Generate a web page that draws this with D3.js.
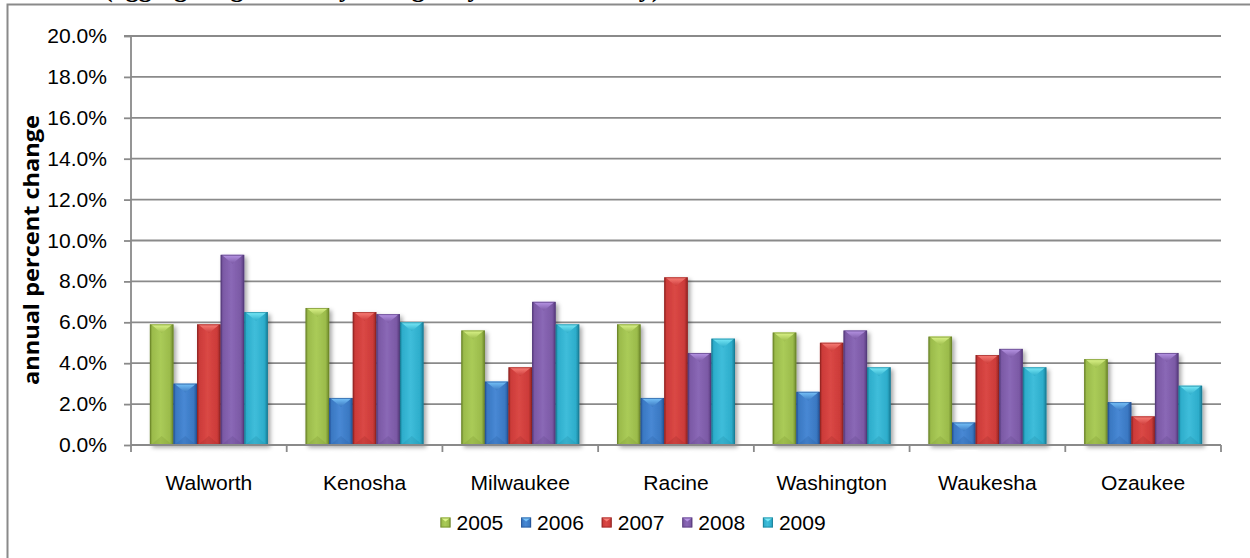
<!DOCTYPE html>
<html>
<head>
<meta charset="utf-8">
<script src="https://cdn.jsdelivr.net/npm/d3@7"></script>
<style>
  html, body { margin: 0; padding: 0; background: #fff; }
  svg { display: block; }
</style>
</head>
<body>
<svg id="chart" width="1250" height="558"></svg>
<script>
// Counties along the x axis
const categories = ["Walworth", "Kenosha", "Milwaukee", "Racine", "Washington", "Waukesha", "Ozaukee"];
// Years (one bar per year in each county)
const seriesNames = ["2005", "2006", "2007", "2008", "2009"];
// Annual percent change by county, one array per year
const v2005 = [5.9, 6.7, 5.6, 5.9, 5.5, 5.3, 4.2];
const v2006 = [3.0, 2.3, 3.1, 2.3, 2.6, 1.1, 2.1];
const v2007 = [5.9, 6.5, 3.8, 8.2, 5.0, 4.4, 1.4];
const v2008 = [9.3, 6.4, 7.0, 4.5, 5.6, 4.7, 4.5];
const v2009 = [6.5, 6.0, 5.9, 5.2, 3.8, 3.8, 2.9];
// Y axis ticks (percent)
const yTickValues = [0, 2, 4, 6, 8, 10, 12, 14, 16, 18, 20];
const yTickLabels = ["0.0%", "2.0%", "4.0%", "6.0%", "8.0%", "10.0%", "12.0%", "14.0%", "16.0%", "18.0%", "20.0%"];
const yTitle = "annual percent change";
const headerText = "(aggregating total levy changes by units in county)";

const seriesValues = [v2005, v2006, v2007, v2008, v2009];

// Bevel palette for each year: body, highlight, edge, top facet
const palette = [
  { base: "#9BBB4B", light: "#AACB58", dark: "#6C862A", tip: "#DDF58A" },
  { base: "#3A78C2", light: "#4888D4", dark: "#255396", tip: "#78C4FA" },
  { base: "#CC3B39", light: "#DA4845", dark: "#922422", tip: "#FA7F78" },
  { base: "#7B59A5", light: "#8A68B6", dark: "#553A7B", tip: "#B896E6" },
  { base: "#2DADCB", light: "#3FBDDA", dark: "#197D96", tip: "#7AEAF8" }
];

const table = categories.map((c, i) => ({
  county: c,
  values: seriesNames.map((s, j) => ({ key: s, idx: j, value: seriesValues[j][i] }))
}));

const svg = d3.select("#chart");
const defs = svg.append("defs");

// Soft drop shadow under the bars
const shadow = defs.append("filter").attr("id", "barShadow")
  .attr("x", "-30%").attr("y", "-10%").attr("width", "170%").attr("height", "130%");
shadow.append("feDropShadow").attr("dx", 2.5).attr("dy", 2.5)
  .attr("stdDeviation", 2).attr("flood-color", "#000").attr("flood-opacity", 0.35);

palette.forEach((p, j) => {
  const g = defs.append("linearGradient").attr("id", "body" + j)
    .attr("x1", 0).attr("x2", 1).attr("y1", 0).attr("y2", 0);
  [[0, p.dark], [0.1, p.base], [0.45, p.light], [0.85, p.base], [1, p.dark]]
    .forEach(([o, c]) => g.append("stop").attr("offset", o).attr("stop-color", c));
  const t = defs.append("linearGradient").attr("id", "tip" + j)
    .attr("x1", 0).attr("x2", 0).attr("y1", 0).attr("y2", 1);
  t.append("stop").attr("offset", 0).attr("stop-color", p.tip);
  t.append("stop").attr("offset", 1).attr("stop-color", p.base);
});

// Scales
const x0 = d3.scaleBand().domain(categories).range([131, 1221]).paddingInner(0).paddingOuter(0);
const bw0 = x0.bandwidth();
const barW = bw0 / 6.6;
const x1 = d3.scaleBand().domain(seriesNames).range([0.8 * barW, bw0 - 0.8 * barW]).padding(0);
const y = d3.scaleLinear().domain([0, 20]).range([445, 36]);

const gray = "#8A8A8A";

// Header line, mostly above the visible area
svg.append("text")
  .attr("x", 104).attr("y", -3.5)
  .attr("font-family", "'Liberation Serif', 'Times New Roman', serif")
  .attr("font-weight", "bold").attr("font-size", 26)
  .text(headerText);

// Chart frame (top and left edges)
svg.append("path")
  .attr("d", "M7.5,558 L7.5,4.5 L1250,4.5")
  .attr("fill", "none").attr("stroke", gray).attr("stroke-width", 2);

// Gridlines
svg.append("g").selectAll("line").data(yTickValues.filter(d => d > 0)).join("line")
  .attr("x1", 131).attr("x2", 1221)
  .attr("y1", d => y(d)).attr("y2", d => y(d))
  .attr("stroke", gray).attr("stroke-width", 1.8);

// Y axis
const yAxis = d3.axisLeft(y).tickValues(yTickValues).tickSize(7).tickFormat("");
const yg = svg.append("g").attr("transform", "translate(131,0)").call(yAxis);
yg.select(".domain").attr("stroke", gray).attr("stroke-width", 1.8).attr("d", `M-7,${y(20)}H0V${y(0)}`);
yg.selectAll(".tick line").attr("stroke", gray).attr("stroke-width", 1.8);

// Stretched label helper (text is slightly wide in this chart)
const sx = 1.08;
function label(parent, x, yy, txt, anchor, size) {
  const g = parent.append("g").attr("transform", `translate(${x},${yy}) scale(${sx},1)`);
  g.append("text").attr("text-anchor", anchor)
    .attr("font-family", "'Liberation Sans', Arial, sans-serif")
    .attr("font-size", size).attr("fill", "#000").text(txt);
  return g;
}

const tickLabels = svg.append("g");
yTickValues.forEach((v, i) => label(tickLabels, 107, y(v) + 7, yTickLabels[i], "end", 19.5));

// Y axis title
svg.append("text")
  .attr("transform", `translate(39,250) rotate(-90)`)
  .attr("text-anchor", "middle")
  .attr("font-family", "'Open Sans', 'Noto Sans', sans-serif")
  .attr("font-weight", "bold").attr("font-size", 21)
  .attr("textLength", 270).attr("lengthAdjust", "spacingAndGlyphs")
  .text(yTitle);

// Bars with bevelled look
const groups = svg.append("g").selectAll("g").data(table).join("g")
  .attr("transform", d => `translate(${x0(d.county)},0)`);

const bars = groups.selectAll("g.bar").data(d => d.values).join("g")
  .attr("class", "bar")
  .attr("filter", "url(#barShadow)");

bars.each(function (d) {
  const g = d3.select(this);
  const bx = x1(d.key), w = x1.bandwidth();
  const top = y(d.value), bot = y(0), h = bot - top;
  const t = Math.min(w * 0.38, h / 2);
  const p = palette[d.idx];
  g.append("rect").attr("x", bx).attr("y", top).attr("width", w).attr("height", h)
    .attr("fill", `url(#body${d.idx})`);
  // top facet
  g.append("path")
    .attr("d", `M${bx + 1},${top}L${bx + w - 1},${top}L${bx + w / 2},${top + t}Z`)
    .attr("fill", `url(#tip${d.idx})`);
  // bottom facet
  g.append("path")
    .attr("d", `M${bx + 1},${bot}L${bx + w - 1},${bot}L${bx + w / 2},${bot - t}Z`)
    .attr("fill", p.dark).attr("opacity", 0.2);
  // edge outline
  g.append("rect").attr("x", bx + 0.5).attr("y", top + 0.5).attr("width", w - 1).attr("height", h - 1)
    .attr("fill", "none").attr("stroke", p.dark).attr("stroke-width", 1).attr("opacity", 0.65);
});

// X axis with category boundary ticks
const xg = svg.append("g");
xg.append("line").attr("x1", 131).attr("x2", 1221).attr("y1", y(0)).attr("y2", y(0))
  .attr("stroke", gray).attr("stroke-width", 1.8);
const bounds = categories.map(c => x0(c)).concat([x0(categories[categories.length - 1]) + bw0]);
xg.selectAll("line.tk").data(bounds).join("line").attr("class", "tk")
  .attr("x1", d => d).attr("x2", d => d).attr("y1", y(0)).attr("y2", y(0) + 7)
  .attr("stroke", gray).attr("stroke-width", 1.8);

const catLabels = svg.append("g");
categories.forEach(c => label(catLabels, x0(c) + bw0 / 2, 490, c, "middle", 19.5));

// Legend
const legend = svg.append("g");
const itemStep = 80.6, legendStart = 440.5;
seriesNames.forEach((s, j) => {
  const lx = legendStart + j * itemStep;
  const p = palette[j];
  legend.append("rect").attr("x", lx).attr("y", 517.5).attr("width", 10).attr("height", 10)
    .attr("fill", `url(#body${j})`);
  legend.append("path").attr("d", `M${lx},517.5L${lx + 10},517.5L${lx + 5},521.5Z`).attr("fill", p.tip);
  legend.append("rect").attr("x", lx + 0.5).attr("y", 518).attr("width", 9).attr("height", 9)
    .attr("fill", "none").attr("stroke", p.dark).attr("stroke-width", 1).attr("opacity", 0.7);
  label(legend, lx + 16, 530, s, "start", 19.5);
});
</script>
</body>
</html>
